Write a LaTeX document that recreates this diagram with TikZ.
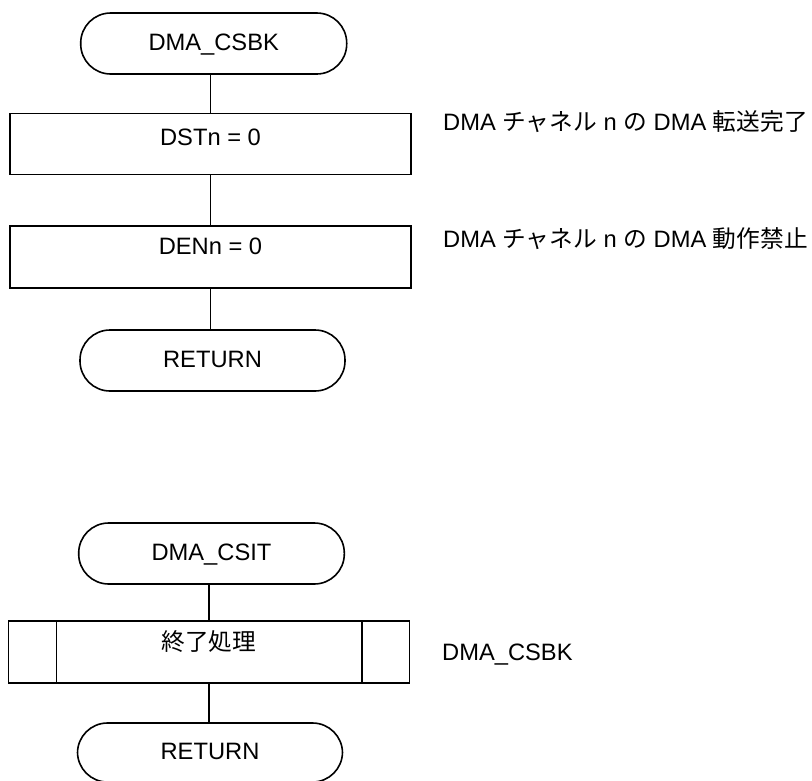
\documentclass[tikz,border=0pt]{standalone}
\usepackage{fontspec}
\setmainfont{Liberation Sans}
\newfontfamily\jp{Noto Sans CJK JP}
\begin{document}
\begin{tikzpicture}[x=1pt,y=-1pt,
  every node/.style={font=\fontsize{23.7pt}{28pt}\selectfont, inner sep=0pt},
  conn/.style={line width=1.6pt},
  term/.style={draw, line width=1.6pt, rectangle, rounded corners=30pt,
    minimum width=265pt, minimum height=61pt, text height=17pt, text depth=3pt},
  proc/.style={draw, line width=1.6pt, rectangle, minimum width=401pt,
    minimum height=61pt, text height=17pt},
  note/.style={anchor=base west}]
\useasboundingbox (0,0) rectangle (812,780);

% upper flow
\node[term, minimum width=266pt] (t1) at (213.7,43.5) {DMA\_CSBK};
\node[proc, text depth=13.6pt] (b1) at (210.5,143.8) {DSTn = 0};
\node[proc, minimum height=62pt, text depth=21.8pt] (b2) at (210.5,256.7) {DENn = 0};
\node[term] (t2) at (212.5,360.5) {RETURN};

\draw[conn] (b1.north) -- (b1.north |- t1.south);
\draw[conn] (b1.south) -- (b2.north);
\draw[conn] (b2.south) -- (b2.south |- t2.north);

\node[note] (n1) at (443,130.2) {DMA {\jp チャネル} n {\jp の} DMA {\jp 転送完了}};
\node[note] (n2) at (443,247.2) {DMA {\jp チャネル} n {\jp の} DMA {\jp 動作禁止}};

% lower flow
\node[term, minimum width=265.6pt] (t3) at (211.5,553.5) {DMA\_CSIT};
\node[proc, minimum height=62pt, text depth=19.6pt] (b3) at (208.8,652) {\jp 終了処理};
\node[term, minimum height=59pt] (t4) at (210,752.5) {RETURN};

\draw[line width=1.6pt] ([xshift=49pt]b3.north west) -- ([xshift=49pt]b3.south west);
\draw[line width=1.6pt] ([xshift=-48.3pt]b3.north east) -- ([xshift=-48.3pt]b3.south east);

\draw[conn] (b3.north) -- (b3.north |- t3.south);
\draw[conn] (b3.south) -- (b3.south |- t4.north);

\node[note] (n3) at (442,660.2) {DMA\_CSBK};
\end{tikzpicture}
\end{document}
